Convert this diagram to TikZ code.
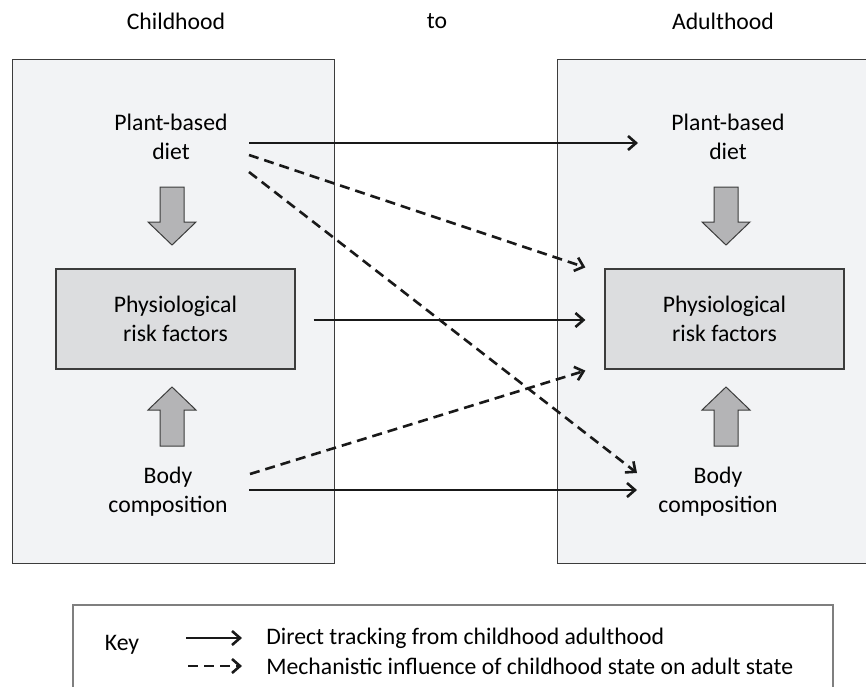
\documentclass[tikz,border=0pt]{standalone}
\usepackage{fontspec}
\setmainfont{Carlito}
\usetikzlibrary{arrows.meta,calc,positioning}

\definecolor{panelgrey}{HTML}{F2F3F5}
\definecolor{boxgrey}{HTML}{DCDDDF}
\definecolor{fatgrey}{HTML}{B4B4B6}
\definecolor{edgegrey}{HTML}{3C3C3C}
\definecolor{keygrey}{HTML}{7F7F7F}

\tikzset{
  panel/.style={draw=edgegrey, fill=panelgrey, line width=0.5pt},
  riskbox/.style={rectangle, draw=edgegrey, fill=boxgrey, line width=0.6pt, minimum width=119.5pt, minimum height=50pt, align=center, inner sep=0pt},
  stage/.style={align=center, inner sep=0pt},
  track/.style={-{Straight Barb[length=4pt,width=7pt]}, line width=1.3pt, draw=black!90},
  influence/.style={track, dash pattern=on 5pt off 3pt},
  fatarr/.style={draw=edgegrey, fill=fatgrey, line width=0.5pt, line join=miter},
}

% block arrow: x, tail y, neck y, tip y
\newcommand{\fatarrow}[4]{%
  \draw[fatarr] (#1-12,#2) -- (#1+12,#2) -- (#1+12,#3) -- (#1+24,#3) -- (#1,#4) -- (#1-24,#3) -- (#1-12,#3) -- cycle;}

\begin{document}
\begin{tikzpicture}[x=0.5pt, y=-0.5pt, font=\fontsize{11.85}{14.5}\selectfont]
\clip (0,0) rectangle (866,686);

% panels
\draw[panel] (12,59) rectangle (334,563);
\draw[panel] (557,59) rectangle (880,563);

% titles
\node[stage] (child) at (176,21) {Childhood};
\node[stage] (to) at (437,21) {to};
\node[stage] (adult) at (723,21) {Adulthood};

% childhood side
\node[stage] (dietC) at (171,136.5) {Plant-based\\diet};
\node[riskbox] (riskC) at (175.5,319) {Physiological\\risk factors};
\node[stage] (bodyC) at (168,491.5) {Body\\composition};

% adulthood side
\node[stage] (dietA) at (728,136.5) {Plant-based\\diet};
\node[riskbox] (riskA) at (724.5,319) {Physiological\\risk factors};
\node[stage] (bodyA) at (718,491.5) {Body\\composition};

\fatarrow{172}{187}{222}{245}
\fatarrow{726}{187}{222}{245}
\fatarrow{172}{446}{410}{387}
\fatarrow{726}{446}{410}{387}

% tracking and influence
\draw[track] ($(dietC.center)+(78,6.5)$) -- ($(dietA.center)+(-90,6.5)$);
\draw[influence] ($(dietC.center)+(78,18.5)$) -- ($(riskA.north west)+(-19,-1)$);
\draw[influence] ($(dietC.center)+(78,35.5)$) -- ($(bodyA.center)+(-81,-18.5)$);
\draw[track] ($(riskC.east)+(18,1)$) -- ($(riskA.west)+(-19,1)$);
\draw[influence] ($(bodyC.center)+(82,-17.5)$) -- ($(riskA.south west)+(-19,1)$);
\draw[track] ($(bodyC.center)+(81,-1.5)$) -- ($(bodyA.center)+(-81,-1.5)$);

% key
\draw[keygrey, line width=0.6pt] (73,605) rectangle (833,720);
\node[stage] (key) at (122,645) {Key};
\node[stage, anchor=west] (direct) at (266,638) {Direct tracking from childhood adulthood};
\node[stage, anchor=west] (mech) at (266,666) {Mechanistic influence of childhood state on adult state};
\draw[track] ($(direct.west)+(-80,0)$) -- ($(direct.west)+(-24,0)$);
\draw[influence] ($(mech.west)+(-78,0)$) -- ($(mech.west)+(-24,0)$);
\end{tikzpicture}
\end{document}
